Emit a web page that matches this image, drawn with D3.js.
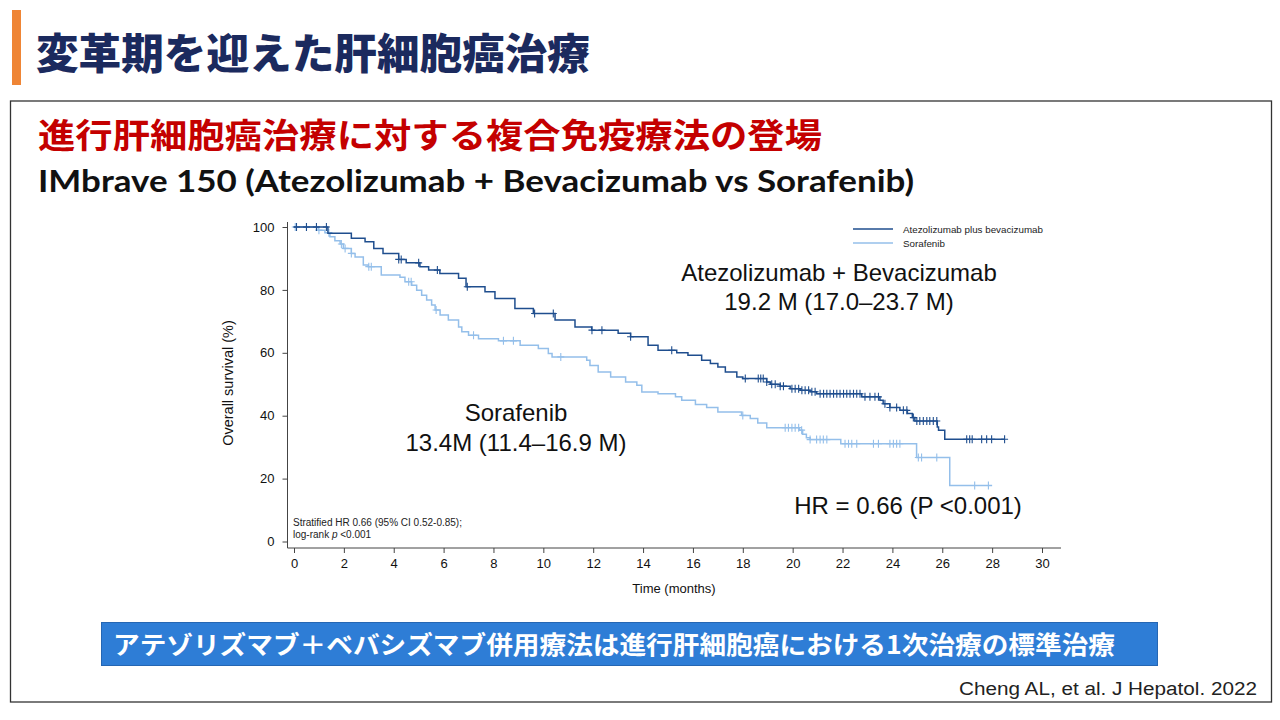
<!DOCTYPE html>
<html><head><meta charset="utf-8">
<script src="https://cdn.jsdelivr.net/npm/d3@7"></script>
<style>body{margin:0;background:#fff;} svg{display:block}</style>
</head><body>
<svg id="c" width="1280" height="720"></svg>
<script>
// ---- data ----
const seriesNames = ["Atezolizumab plus bevacizumab", "Sorafenib"];
const atezoTime = [0, 1.36, 2.3, 2.85, 3.2, 3.57, 4.2, 4.5, 5.05, 5.4, 5.85, 6.6, 6.9, 7.66, 8.06, 8.86, 9.6, 10.47, 11.27, 11.94, 13.0, 13.5, 14.2, 14.6, 15.35, 15.8, 16.35, 16.7, 17.0, 17.3, 17.76, 18.0, 18.96, 19.1, 19.5, 19.9, 20.3, 20.7, 20.96, 22.77, 23.5, 23.63, 23.9, 24.3, 24.6, 24.8, 24.9, 25.8, 25.85, 26.1, 28.5];
const atezoSurv = [100, 98, 96.4, 95.3, 93.2, 91.6, 89.7, 88.6, 87.4, 86.3, 85.2, 83.7, 81, 79.4, 77.3, 74.1, 72.5, 70.4, 68.2, 67.2, 66.2, 65.1, 62.4, 60.8, 60, 59.2, 57.6, 56.6, 55.5, 53.9, 52.3, 51.8, 50.7, 50, 49.4, 48.6, 48.1, 47.6, 47, 46, 44.9, 43.8, 42.6, 41.7, 40.7, 39.4, 38.3, 36.4, 35.4, 32.5, 32.5];
const soraTime = [0, 0.97, 1.24, 1.44, 1.64, 1.85, 1.98, 2.3, 2.45, 2.78, 2.98, 3.5, 4.25, 4.45, 4.72, 4.92, 5.12, 5.32, 5.52, 5.66, 5.86, 6.19, 6.6, 6.73, 7.0, 7.4, 8.2, 9.07, 9.8, 10.2, 10.35, 11.74, 11.87, 12.2, 12.7, 13.3, 13.75, 13.95, 14.6, 15.3, 15.55, 16.1, 16.55, 17.0, 17.95, 18.3, 18.6, 18.96, 20.27, 20.4, 20.55, 20.7, 21.93, 24.97, 26.3, 28.0];
const soraSurv = [100, 99, 98.2, 96.9, 95.6, 94.6, 93.2, 91.6, 90.5, 87.9, 87.4, 84.7, 84, 82.6, 81.5, 79.9, 78.3, 76.8, 75.2, 73.6, 72, 70.4, 68.2, 66.7, 65.6, 64.5, 63.8, 62.4, 61.4, 59.8, 58.7, 57.6, 56, 53.9, 52.3, 50.7, 49.7, 47.5, 47, 46, 44.9, 43.6, 42.6, 41.2, 40.1, 39.1, 37.7, 36.2, 35.4, 34.1, 33, 32.4, 31.1, 26.7, 17.8, 17.8];
const atezoCensor = [0.1, 0.5, 0.9, 1.3, 4.2, 4.3, 5.0, 5.75, 6.95, 9.65, 10.4, 11.95, 12.35, 13.5, 15.15, 18.1, 18.62, 18.72, 18.82, 18.96, 19.16, 19.3, 19.5, 19.63, 19.97, 20.1, 20.24, 20.37, 20.5, 20.64, 20.77, 20.9, 21.1, 21.24, 21.37, 21.5, 21.64, 21.77, 21.9, 22.04, 22.17, 22.3, 22.44, 22.57, 22.7, 22.9, 23.1, 23.3, 23.44, 23.7, 23.9, 24.17, 24.44, 24.58, 24.84, 24.98, 25.1, 25.24, 25.38, 25.5, 25.64, 25.78, 26.98, 27.1, 27.2, 27.58, 27.78, 27.98, 28.5];
const soraCensor = [0.05, 0.5, 1.0, 1.4, 1.9, 2.05, 2.3, 3.0, 3.1, 4.6, 4.7, 5.7, 7.2, 8.4, 8.8, 10.7, 18.0, 19.7, 19.83, 19.97, 20.1, 20.24, 20.36, 20.7, 20.96, 21.1, 21.23, 21.37, 22.1, 22.24, 22.37, 22.57, 23.24, 23.44, 23.9, 24.04, 24.17, 24.3, 25.04, 25.17, 25.78, 27.3, 27.85];
const xTicks = [0, 2, 4, 6, 8, 10, 12, 14, 16, 18, 20, 22, 24, 26, 28, 30];
const yTicks = [0, 20, 40, 60, 80, 100];

const colors = ["#1f4e8e", "#94bfea"];
const svg = d3.select("#c");
const CJK = "'Noto Sans CJK JP', 'Noto Sans CJK SC', sans-serif";
const ARIAL = "'Liberation Sans', Arial, sans-serif";

// ---- slide chrome ----
svg.append("rect").attr("x", 12).attr("y", 10).attr("width", 9).attr("height", 75).attr("fill", "#ef8535");
svg.append("text").attr("x", 36).attr("y", 50).attr("dominant-baseline", "central")
  .attr("font-family", CJK).attr("font-weight", 900).attr("font-size", 42)
  .attr("fill", "#1b2a5e").attr("textLength", 554).attr("lengthAdjust", "spacingAndGlyphs")
  .text("変革期を迎えた肝細胞癌治療");
svg.append("rect").attr("x", 10.5).attr("y", 101).attr("width", 1261).attr("height", 601)
  .attr("fill", "none").attr("stroke", "#333").attr("stroke-width", 1.3);
svg.append("text").attr("x", 38).attr("y", 133).attr("dominant-baseline", "central")
  .attr("font-family", CJK).attr("font-weight", 700).attr("font-size", 34)
  .attr("fill", "#c40000").attr("textLength", 784).attr("lengthAdjust", "spacingAndGlyphs")
  .text("進行肝細胞癌治療に対する複合免疫療法の登場");
svg.append("text").attr("x", 38).attr("y", 192)
  .attr("font-family", "Lato, 'Open Sans', sans-serif").attr("font-weight", 700).attr("font-size", 30)
  .attr("fill", "#111").attr("textLength", 876).attr("lengthAdjust", "spacingAndGlyphs")
  .text("IMbrave 150 (Atezolizumab + Bevacizumab vs Sorafenib)");

// ---- chart ----
const x = d3.scaleLinear().domain([0, 30]).range([294, 1042]);
const y = d3.scaleLinear().domain([0, 100]).range([541.5, 227]);
const axisCol = "#444";

svg.append("line").attr("x1", 287.5).attr("x2", 287.5).attr("y1", 222).attr("y2", 548).attr("stroke", axisCol);
svg.append("line").attr("x1", 287.5).attr("x2", 1061).attr("y1", 548).attr("y2", 548).attr("stroke", axisCol);

const gx = svg.append("g").attr("transform", "translate(0,548)")
  .call(d3.axisBottom(x).tickValues(xTicks).tickSize(5).tickPadding(6));
gx.select(".domain").remove();
const gy = svg.append("g").attr("transform", "translate(287.5,0)")
  .call(d3.axisLeft(y).tickValues(yTicks).tickSize(5).tickPadding(8));
gy.select(".domain").remove();
[gx, gy].forEach(g => {
  g.selectAll("line").attr("stroke", axisCol);
  g.selectAll("text").attr("font-family", ARIAL).attr("font-size", 13).attr("fill", "#111");
});

svg.append("text").attr("x", 674).attr("y", 593).attr("text-anchor", "middle")
  .attr("font-family", ARIAL).attr("font-size", 13).attr("fill", "#111").text("Time (months)");
svg.append("text").attr("transform", "translate(233,383) rotate(-90)").attr("text-anchor", "middle")
  .attr("font-family", ARIAL).attr("font-size", 14.5).attr("fill", "#111").text("Overall survival (%)");

const series = [
  {t: soraTime, v: soraSurv, c: soraCensor, col: colors[1]},
  {t: atezoTime, v: atezoSurv, c: atezoCensor, col: colors[0]}
];
const line = d3.line().x(d => x(d[0])).y(d => y(d[1])).curve(d3.curveStepAfter);
series.forEach(s => {
  const pts = s.t.map((t, i) => [t, s.v[i]]);
  svg.append("path").attr("d", line(pts)).attr("fill", "none")
    .attr("stroke", s.col).attr("stroke-width", 1.5);
  const cens = s.c.map(t => {
    const i = Math.max(0, d3.bisectRight(s.t, t) - 1);
    return [x(t), y(s.v[i])];
  });
  svg.append("path").attr("d", cens.map(([cx, cy]) => `M${cx - 3.5},${cy}h7M${cx},${cy - 4}v8`).join(""))
    .attr("stroke", s.col).attr("stroke-width", 1.1).attr("fill", "none");
});

// legend
seriesNames.forEach((n, i) => {
  const ly = 229 + i * 14;
  svg.append("line").attr("x1", 853).attr("x2", 893).attr("y1", ly).attr("y2", ly)
    .attr("stroke", colors[i]).attr("stroke-width", 1.4);
  svg.append("text").attr("x", 903).attr("y", ly + 3.5).attr("font-family", ARIAL)
    .attr("font-size", 9.8).attr("fill", "#222").text(n);
});

// annotations
const ann = [
  ["Atezolizumab + Bevacizumab", 839, 281],
  ["19.2 M (17.0–23.7 M)", 839, 310],
  ["Sorafenib", 516, 421],
  ["13.4M (11.4–16.9 M)", 516, 451],
  ["HR = 0.66 (P <0.001)", 908, 514]
];
ann.forEach(([t, ax, ay]) => svg.append("text").attr("x", ax).attr("y", ay).attr("text-anchor", "middle")
  .attr("font-family", ARIAL).attr("font-size", 24).attr("fill", "#111").text(t));

svg.append("text").attr("x", 293).attr("y", 526).attr("font-family", ARIAL).attr("font-size", 10)
  .attr("fill", "#222").text("Stratified HR 0.66 (95% CI 0.52-0.85);");
const lr = svg.append("text").attr("x", 293).attr("y", 538).attr("font-family", ARIAL).attr("font-size", 10).attr("fill", "#222");
lr.append("tspan").text("log-rank ");
lr.append("tspan").attr("font-style", "italic").text("p");
lr.append("tspan").text(" <0.001");

// banner
svg.append("rect").attr("x", 101.5).attr("y", 622.5).attr("width", 1056).attr("height", 43)
  .attr("fill", "#2e7dd6").attr("stroke", "#2566b3").attr("stroke-width", 1);
svg.append("text").attr("x", 113).attr("y", 643).attr("dominant-baseline", "central")
  .attr("font-family", CJK).attr("font-weight", 700).attr("font-size", 25)
  .attr("fill", "#fff").attr("textLength", 1002).attr("lengthAdjust", "spacingAndGlyphs")
  .text("アテゾリズマブ＋ベバシズマブ併用療法は進行肝細胞癌における1次治療の標準治療");

svg.append("text").attr("x", 1257).attr("y", 695).attr("text-anchor", "end")
  .attr("font-family", "'Liberation Sans Narrow', 'Liberation Sans', sans-serif").attr("font-size", 18)
  .attr("fill", "#222").attr("textLength", 298).attr("lengthAdjust", "spacingAndGlyphs")
  .text("Cheng AL, et al. J Hepatol. 2022");
</script>
</body></html>
